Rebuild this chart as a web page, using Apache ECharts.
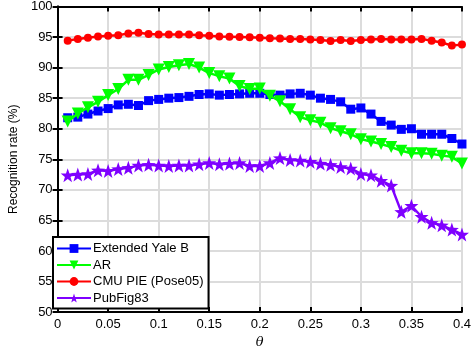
<!DOCTYPE html>
<html>
<head>
<meta charset="utf-8" />
<title>Recognition rate vs theta</title>
<script src="https://cdn.jsdelivr.net/npm/echarts@6/dist/echarts.min.js"></script>
<style>
  html, body { margin: 0; padding: 0; background: #fff; }
  #chart { width: 474px; height: 354px; }
</style>
</head>
<body>
<div id="chart"></div>
<script>
// theta values (x axis)
var theta = [0.01, 0.02, 0.03, 0.04, 0.05, 0.06, 0.07, 0.08, 0.09, 0.10,
             0.11, 0.12, 0.13, 0.14, 0.15, 0.16, 0.17, 0.18, 0.19, 0.20,
             0.21, 0.22, 0.23, 0.24, 0.25, 0.26, 0.27, 0.28, 0.29, 0.30,
             0.31, 0.32, 0.33, 0.34, 0.35, 0.36, 0.37, 0.38, 0.39, 0.40];

var yaleB = [81.8, 81.9, 82.4, 82.9, 83.3, 83.9, 84.0, 83.8, 84.6, 84.8,
             85.0, 85.1, 85.3, 85.6, 85.7, 85.5, 85.6, 85.7, 85.8, 85.8,
             85.6, 85.5, 85.7, 85.8, 85.5, 85.0, 84.8, 84.4, 83.2, 83.4,
             82.4, 81.2, 80.6, 79.9, 80.0, 79.1, 79.1, 79.1, 78.4, 77.5];

var arData = [81.2, 82.5, 83.5, 84.4, 85.5, 86.5, 88.0, 88.0, 88.8, 89.7,
              90.1, 90.4, 90.6, 90.0, 89.1, 88.6, 88.2, 87.0, 86.5, 86.6,
              85.4, 84.5, 83.2, 81.9, 81.4, 81.0, 80.1, 79.6, 79.1, 78.3,
              77.9, 77.5, 77.0, 76.4, 76.0, 76.0, 75.9, 75.6, 75.4, 74.3];

var cmuPie = [94.4, 94.7, 94.9, 95.1, 95.2, 95.3, 95.6, 95.7, 95.5, 95.4,
              95.4, 95.4, 95.4, 95.3, 95.2, 95.1, 95.05, 95.0, 94.95, 94.9,
              94.8, 94.75, 94.7, 94.7, 94.6, 94.5, 94.35, 94.5, 94.35, 94.5,
              94.6, 94.7, 94.6, 94.6, 94.6, 94.7, 94.4, 94.1, 93.6, 93.8];

var pubFig = [72.4, 72.5, 72.6, 73.2, 73.1, 73.4, 73.6, 74.0, 74.1, 74.0,
              73.9, 74.0, 74.0, 74.2, 74.4, 74.2, 74.3, 74.4, 73.9, 73.9,
              74.4, 75.2, 74.9, 74.8, 74.6, 74.3, 74.1, 73.75, 73.5, 72.6,
              72.4, 71.5, 70.7, 66.4, 67.4, 65.6, 64.6, 64.2, 63.5, 62.7];

var seriesNames = ['Extended Yale B', 'AR', 'CMU PIE (Pose05)', 'PubFig83'];

function pairs(ys) {
  return theta.map(function (t, i) { return [t, ys[i]]; });
}

var star = 'path://M0,-10 L2.35,-3.24 L9.51,-3.09 L3.8,1.24 L5.88,8.09 L0,4 L-5.88,8.09 L-3.8,1.24 L-9.51,-3.09 L-2.35,-3.24 Z';
var font = 'Liberation Sans';

var chart = echarts.init(document.getElementById('chart'));

var hiddenAxis = {
  axisLine: { show: true, lineStyle: { color: '#000', width: 2 } },
  axisTick: { show: true, inside: true, length: 5, lineStyle: { color: '#000', width: 2 } },
  axisLabel: { show: false },
  splitLine: { show: false }
};

chart.setOption({
  backgroundColor: '#fff',
  animation: false,
  textStyle: { fontFamily: font },
  grid: { left: 43, right: 10, top: 6, bottom: 35, containLabel: false },
  legend: {
    orient: 'vertical',
    left: 53,
    top: 237,
    data: seriesNames,
    backgroundColor: '#fff',
    borderColor: '#000',
    borderWidth: 2,
    borderRadius: 0,
    padding: [5, 5, 4, 3],
    itemWidth: 34,
    itemHeight: 11,
    itemGap: 3.5,
    textStyle: { fontSize: 13, color: '#000', fontFamily: font, padding: [0, 0, 0, -3] }
  },
  xAxis: [{
    type: 'value',
    min: 0, max: 0.4, interval: 0.05,
    name: 'θ',
    nameLocation: 'middle',
    nameGap: 22,
    nameTextStyle: { fontStyle: 'italic', fontSize: 13, color: '#000', fontFamily: 'DejaVu Serif' },
    axisLine: { lineStyle: { color: '#000', width: 2 } },
    axisTick: { inside: true, length: 5, lineStyle: { color: '#000', width: 2 } },
    axisLabel: { color: '#000', fontSize: 13, margin: 6 },
    splitLine: { show: true, lineStyle: { color: '#dcdcdc', width: 2 } }
  }, Object.assign({
    type: 'value', position: 'top', min: 0, max: 0.4, interval: 0.05
  }, hiddenAxis)],
  yAxis: [{
    type: 'value',
    min: 50, max: 100, interval: 5,
    name: 'Recognition rate (%)',
    nameLocation: 'middle',
    nameGap: 30,
    nameTextStyle: { fontSize: 12, color: '#000' },
    axisLine: { lineStyle: { color: '#000', width: 2 } },
    axisTick: { inside: true, length: 5, lineStyle: { color: '#000', width: 2 } },
    axisLabel: { color: '#000', fontSize: 13, margin: 5 },
    splitLine: { show: true, lineStyle: { color: '#dcdcdc', width: 2 } }
  }, Object.assign({
    type: 'value', position: 'right', min: 50, max: 100, interval: 5
  }, hiddenAxis)],
  series: [{
    name: seriesNames[0],
    type: 'line',
    data: pairs(yaleB),
    symbol: 'rect',
    symbolSize: 9,
    color: '#0000ff',
    lineStyle: { width: 2.5 },
    z: 3
  }, {
    name: seriesNames[1],
    type: 'line',
    data: pairs(arData),
    symbol: 'triangle',
    symbolRotate: 180,
    symbolSize: 12,
    color: '#00ff00',
    lineStyle: { width: 2.5 },
    z: 4
  }, {
    name: seriesNames[2],
    type: 'line',
    data: pairs(cmuPie),
    symbol: 'circle',
    symbolSize: 8,
    color: '#ff0000',
    lineStyle: { width: 2.5 },
    z: 3
  }, {
    name: seriesNames[3],
    type: 'line',
    data: pairs(pubFig),
    symbol: star,
    symbolSize: 14,
    color: '#7f00ff',
    lineStyle: { width: 2.5 },
    z: 3
  }]
});
</script>
</body>
</html>
